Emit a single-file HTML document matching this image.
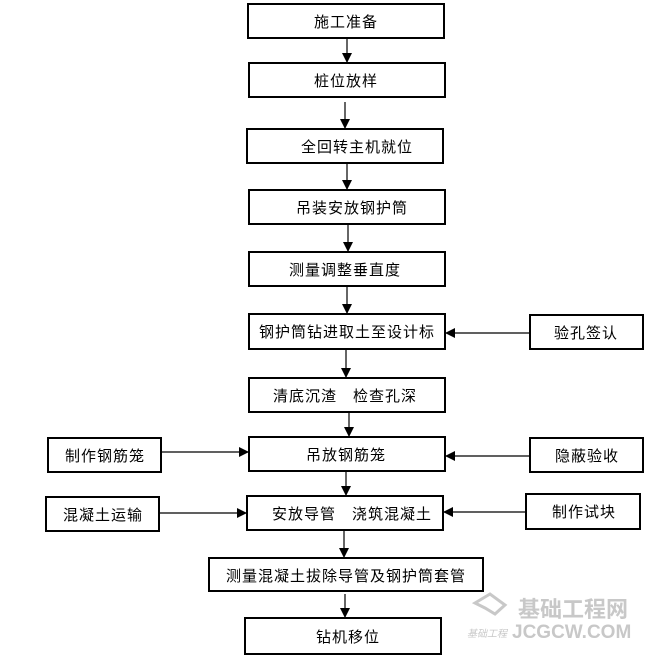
<!DOCTYPE html>
<html><head><meta charset="utf-8"><style>
html,body{margin:0;padding:0;background:#fff;}
</style></head><body>
<svg width="658" height="657" viewBox="0 0 658 657" xmlns="http://www.w3.org/2000/svg" style="display:block;font-family:'Liberation Sans','Noto Sans CJK SC',sans-serif;">
<defs><marker id="a" markerWidth="10" markerHeight="10" refX="9" refY="5" orient="auto" markerUnits="userSpaceOnUse"><path d="M0,0 L10,5 L0,10 z" fill="#000"/></marker></defs>
<g fill="none" stroke="#000" stroke-width="2">
<rect x="248" y="4" width="196" height="34"/>
<rect x="249" y="63" width="196" height="34"/>
<rect x="247" y="129" width="196" height="34"/>
<rect x="249" y="190" width="196" height="34"/>
<rect x="249" y="252" width="196" height="34"/>
<rect x="249" y="314" width="196" height="35"/>
<rect x="530" y="315" width="113" height="34"/>
<rect x="249" y="378" width="196" height="34"/>
<rect x="249" y="437" width="196" height="34"/>
<rect x="48" y="438" width="113" height="34"/>
<rect x="530" y="438" width="113" height="34"/>
<rect x="247" y="496" width="196" height="34"/>
<rect x="46" y="497" width="113" height="34"/>
<rect x="526" y="494" width="114" height="35"/>
<rect x="209" y="558" width="274" height="33"/>
<rect x="245" y="618" width="196" height="36"/>
</g>
<g stroke="#000" stroke-width="1.2" marker-end="url(#a)">
<line x1="347" y1="38" x2="347" y2="62"/>
<line x1="345" y1="102" x2="345" y2="128"/>
<line x1="347" y1="163" x2="347" y2="189"/>
<line x1="348" y1="224" x2="348" y2="251"/>
<line x1="347" y1="286" x2="347" y2="313"/>
<line x1="346" y1="349" x2="346" y2="377"/>
<line x1="349" y1="412" x2="349" y2="436"/>
<line x1="346" y1="471" x2="346" y2="495"/>
<line x1="344" y1="530" x2="344" y2="557"/>
<line x1="345" y1="594" x2="345" y2="617"/>
<line x1="530" y1="333" x2="446" y2="333"/>
<line x1="161" y1="452" x2="248" y2="452"/>
<line x1="530" y1="456" x2="446" y2="456"/>
<line x1="159" y1="513" x2="246" y2="513"/>
<line x1="526" y1="512" x2="444" y2="512"/>
</g>
<g font-size="15" fill="#000" text-anchor="middle" letter-spacing="1">
<text x="346" y="27">施工准备</text>
<text x="346" y="86">桩位放样</text>
<text x="357" y="152">全回转主机就位</text>
<text x="352" y="213">吊装安放钢护筒</text>
<text x="345" y="275">测量调整垂直度</text>
<text x="347" y="337">钢护筒钻进取土至设计标</text>
<text x="586" y="338">验孔签认</text>
<text x="345" y="401">清底沉渣　检查孔深</text>
<text x="346" y="460">吊放钢筋笼</text>
<text x="105" y="461">制作钢筋笼</text>
<text x="587" y="461">隐蔽验收</text>
<text x="352" y="519">安放导管　浇筑混凝土</text>
<text x="103" y="520">混凝土运输</text>
<text x="584" y="517">制作试块</text>
<text x="346" y="581">测量混凝土拔除导管及钢护筒套管</text>
<text x="348" y="642">钻机移位</text>
</g>
<g fill="#c8c8c8">
<path d="M475,603 L490,594 L505,605 L495,614 L485,608 Z" fill="none" stroke="#c8c8c8" stroke-width="3"/>
<text x="518" y="617" font-size="22" font-weight="bold">基础工程网</text>
<text x="467" y="637" font-size="10" font-style="italic">基础工程</text>
<text x="512" y="638" font-size="19" font-weight="bold">JCGCW.COM</text>
</g>
</svg>
</body></html>
